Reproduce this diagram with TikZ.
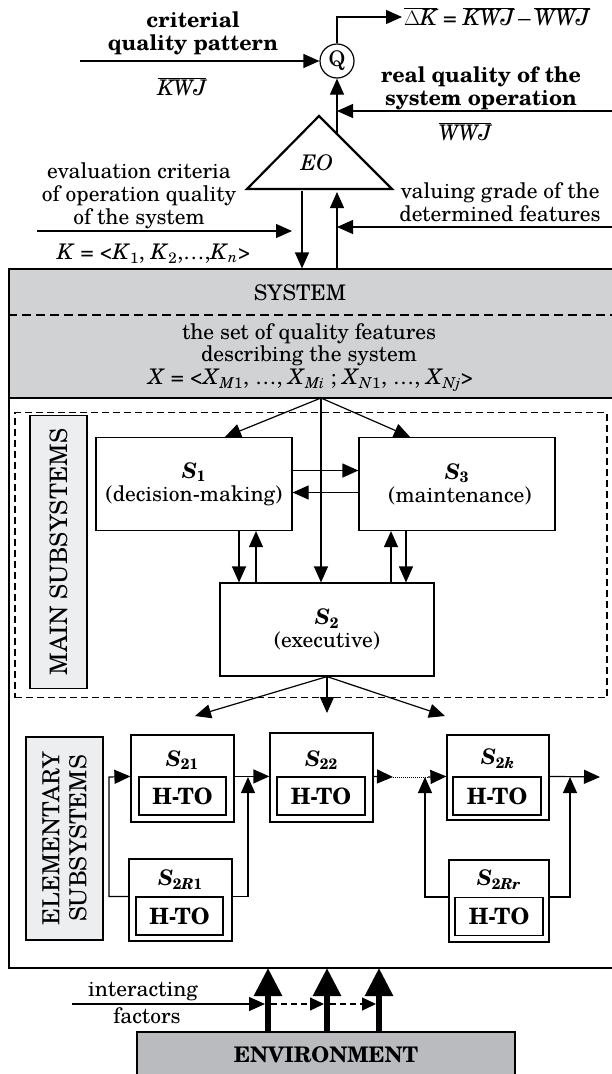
\documentclass[tikz,border=0pt]{standalone}
\usepackage{fontspec}
\setmainfont{TeX Gyre Schola}
\usetikzlibrary{arrows.meta}
\definecolor{sysgray}{RGB}{209,210,212}
\definecolor{labgray}{RGB}{237,238,240}
\definecolor{envgray}{RGB}{186,187,190}
\newcommand\sbs[1]{\textsubscript{#1}}
\newcommand\ovl[1]{$\overline{\mbox{#1}}$}
\newcommand\fs{\fontsize{21.5}{23}\selectfont}
\begin{document}
\begin{tikzpicture}[x=1pt,y=-1pt,
  every node/.style={font=\fs, inner sep=0pt},
  ln/.style={line width=1.2pt},
  arr/.style={ln,-{Triangle[length=16pt,width=14pt]}},
  bigarr/.style={line width=6pt,-{Triangle[length=28pt,width=27pt]}},
  dasharr/.style={ln,dash pattern=on 6pt off 4pt,-{Triangle[length=14pt,width=13pt]}},
  plainbox/.style={draw,ln,fill=white},
  labbox/.style={draw,ln,fill=labgray},
  dbox/.style={draw,ln,dash pattern=on 7pt off 4pt},
  ebox/.style={plainbox,minimum width=103pt,minimum height=87pt},
  ibox/.style={draw,ln,minimum width=87pt,minimum height=38pt,font=\fontsize{22.5}{24}\selectfont\bfseries},
]
\useasboundingbox (0,0) rectangle (612,1074);

% ---------- top part ----------
\node[align=center,font=\fs\bfseries] (crit) at (193,33) {criterial\\quality pattern};
\node (kwj) at (182,87) {\ovl{\itshape KWJ}};
\node[draw,circle,ln,minimum size=34pt] (q) at (337,61) {Q};
\coordinate (kin) at (80,61);
\draw[arr] (kin) -- (q.west);
\node[anchor=west,inner sep=2pt,font=\fontsize{22.5}{24}\selectfont] (dk) at (402,17) {\ovl{$\Delta$\itshape K} = \ovl{\itshape KWJ}\,–\,\ovl{\itshape WWJ}};
\draw[arr] (q.north) |- (dk.west);

\node[align=center,font=\fs\bfseries] (real) at (481,88) {real quality of the\\system operation};
\node (wwj) at (465,132) {\ovl{\itshape WWJ}};

\coordinate (eoA) at (319,116);
\coordinate (eoL) at (247,189);
\coordinate (eoR) at (392,189);
\draw[line width=2.2pt,line join=miter] (eoA) -- (eoL) -- (eoR) -- cycle;
\node (eo) at (317,163) {\itshape EO};

\coordinate (eoq) at (337,134);
\draw[arr] (eoq) -- (q.south);
\coordinate (wwin) at (612,111);
\draw[arr] (wwin) -- (eoq |- wwin);

\node[align=center] (evc) at (139,196) {evaluation criteria\\of operation quality\\of the system};
\node[align=center] (vgr) at (500,202) {valuing grade of the\\determined features};
\node (kset) at (154,254) {\textit{K} = <\textit{K}\sbs{1}, \textit{K}\sbs{2},…,\textit{K}\sbs{\textit{n}}>};

% ---------- system ----------
\node[plainbox,minimum width=604pt,minimum height=570pt] (outer) at (311,683) {};
\node[draw,ln,fill=sysgray,minimum width=604pt,minimum height=129pt] (sys) at (311,333.5) {};
\draw[line width=1.5pt,dash pattern=on 9pt off 5pt] (sys.west |- 0,315) -- (sys.east |- 0,315);
\node (systxt) at (300,293) {SYSTEM};
\node[align=center,font=\fontsize{21.5}{22}\selectfont] (settxt) at (309,345) {the set of quality features\\describing the system};
\node (xset) at (311,380) {\textit{X} = <\textit{X}\sbs{\textit{M}1}, …, \textit{X}\sbs{\textit{Mi}} ; \textit{X}\sbs{\textit{N}1}, …, \textit{X}\sbs{\textit{Nj}}>};

\coordinate (eob1) at (302,191);
\coordinate (eob2) at (337,192);
\draw[arr] (eob1) -- (eob1 |- sys.north);
\draw[arr] (eob2 |- sys.north) -- (eob2);
\coordinate (kin2) at (37,231);
\coordinate (kin2e) at (292,231);
\draw[arr] (kin2) -- (kin2e);
\coordinate (vin) at (612,227);
\draw[arr] (vin) -- (eob2 |- vin);

% ---------- main subsystems ----------
\node[dbox,minimum width=592pt,minimum height=285pt] (mainbox) at (311,555) {};
\node[labbox,minimum width=57pt,minimum height=273pt] (mainlab) at (58.5,552) {};
\node[rotate=90,font=\fontsize{24}{26}\selectfont] at (mainlab) {MAIN SUBSYSTEMS};

\node[plainbox,minimum width=196pt,minimum height=93pt,align=center] (s1) at (194,484) {\textbf{\textit{S}\sbs{1}}\\(decision-making)};
\node[plainbox,minimum width=196pt,minimum height=93pt,align=center] (s3) at (457,484) {\textbf{\textit{S}\sbs{3}}\\\ (maintenance)};
\node[plainbox,minimum width=214pt,minimum height=93pt,align=center] (s2) at (327,629.5) {\textbf{\textit{S}\sbs{2}}\\(executive)};

\coordinate (xf) at (321,398);
\draw[arr] (xf) -- ([xshift=31pt]s1.north);
\draw[arr] (xf) -- (xf |- s2.north);
\draw[arr] (xf) -- ([xshift=-47pt]s3.north);

\draw[arr] ([yshift=13.5pt]s1.east) -- ([yshift=13.5pt]s3.west);
\draw[arr] ([yshift=-8.5pt]s3.west) -- ([yshift=-8.5pt]s1.east);

\coordinate (d1) at ([xshift=45pt]s1.south);
\coordinate (u1) at ([xshift=62pt]s1.south);
\coordinate (u3) at ([xshift=-66pt]s3.south);
\coordinate (d3) at ([xshift=-51pt]s3.south);
\draw[arr] (d1) -- (d1 |- s2.north);
\draw[arr] (u1 |- s2.north) -- (u1);
\draw[arr] (u3 |- s2.north) -- (u3);
\draw[arr] (d3) -- (d3 |- s2.north);

\coordinate (f1) at (195,716);
\coordinate (f2) at (327,713);
\coordinate (f3) at (445,716);
\draw[arr] (s2.south) -- (f1);
\draw[arr] (s2.south) -- (f2);
\draw[arr] (s2.south) -- (f3);

% ---------- elementary subsystems ----------
\node[labbox,minimum width=77pt,minimum height=203pt] (elab) at (64.5,838.5) {};
\node[rotate=90,align=center,font=\fontsize{23.5}{27}\selectfont] at (elab) {ELEMENTARY\\SUBSYSTEMS};

\node[ebox] (s21) at (182.5,778.5) {};
\node[ibox] (h21) at (182.5,796) {H-TO};
\node (l21) at (182.5,760) {\textbf{\textit{S}\sbs{21}}};

\node[ebox,minimum height=89pt] (s22) at (321.5,777.5) {};
\node[ibox,minimum width=88pt] (h22) at (321,796) {H-TO};
\node (l22) at (321.5,760) {\textbf{\textit{S}\sbs{22}}};

\node[ebox,minimum width=102pt,minimum height=85pt] (s2k) at (498,777.5) {};
\node[ibox,minimum width=88pt] (h2k) at (497,796) {H-TO};
\node (l2k) at (498,759) {\textbf{\textit{S}\sbs{2\textit{k}}}};

\node[ebox,minimum height=82pt] (s2r1) at (180.5,900) {};
\node[ibox] (h2r1) at (179.5,916) {H-TO};
\node (l2r1) at (180.5,880) {\textbf{\textit{S}\sbs{2\textit{R}1}}};

\node[ebox,minimum width=100pt,minimum height=82pt] (s2rr) at (499,901) {};
\node[ibox,minimum width=88pt] (h2rr) at (499,916.5) {H-TO};
\node (l2rr) at (499,880) {\textbf{\textit{S}\sbs{2\textit{Rr}}}};

\coordinate (c1) at (109,777);
\coordinate (c2) at (248,777);
\coordinate (c3) at (393,777);
\coordinate (c4) at (428,777);
\coordinate (c5) at (425,777);
\coordinate (c6) at (600,777);
\coordinate (c7) at (570,777);
\draw[arr] (h2r1.north -| s2r1.west) -| (c1) -- (h21.north -| s21.west);
\draw[arr] (h21.north -| s21.east) -- (h22.north -| s22.west);
\draw[arr] (h2r1.north -| s2r1.east) -| (c2);
\draw[arr] (h22.north -| s22.east) -- (c3);
\draw[line width=1pt,dash pattern=on 1pt off 1pt] (c3) -- (c4);
\draw[arr] (c4) -- (h2k.north -| s2k.west);
\draw[arr] (h2rr.north -| s2rr.west) -| (c5);
\draw[arr] (h2k.north -| s2k.east) -- (c6);
\draw[arr] (h2rr.north -| s2rr.east) -| (c7);

% ---------- environment ----------
\node[draw,ln,fill=envgray,minimum width=378pt,minimum height=46pt,font=\fs\bfseries] (env) at (326,1055) {ENVIRONMENT};
\coordinate (t1) at (268,968);
\coordinate (t2) at (327,968);
\coordinate (t3) at (379,968);
\draw[bigarr] (t1 |- env.north) -- (t1);
\draw[bigarr] (t2 |- env.north) -- (t2);
\draw[bigarr] (t3 |- env.north) -- (t3);

\node (inter) at (143,992) {interacting};
\node (fact) at (147,1016) {factors};
\coordinate (i0) at (72,1004);
\coordinate (i1) at (265,1004);
\coordinate (i2) at (271,1004);
\coordinate (i3) at (324,1004);
\coordinate (i4) at (330,1004);
\coordinate (i5) at (376,1004);
\draw[arr] (i0) -- (i1);
\draw[dasharr] (i2) -- (i3);
\draw[dasharr] (i4) -- (i5);
\end{tikzpicture}
\end{document}
